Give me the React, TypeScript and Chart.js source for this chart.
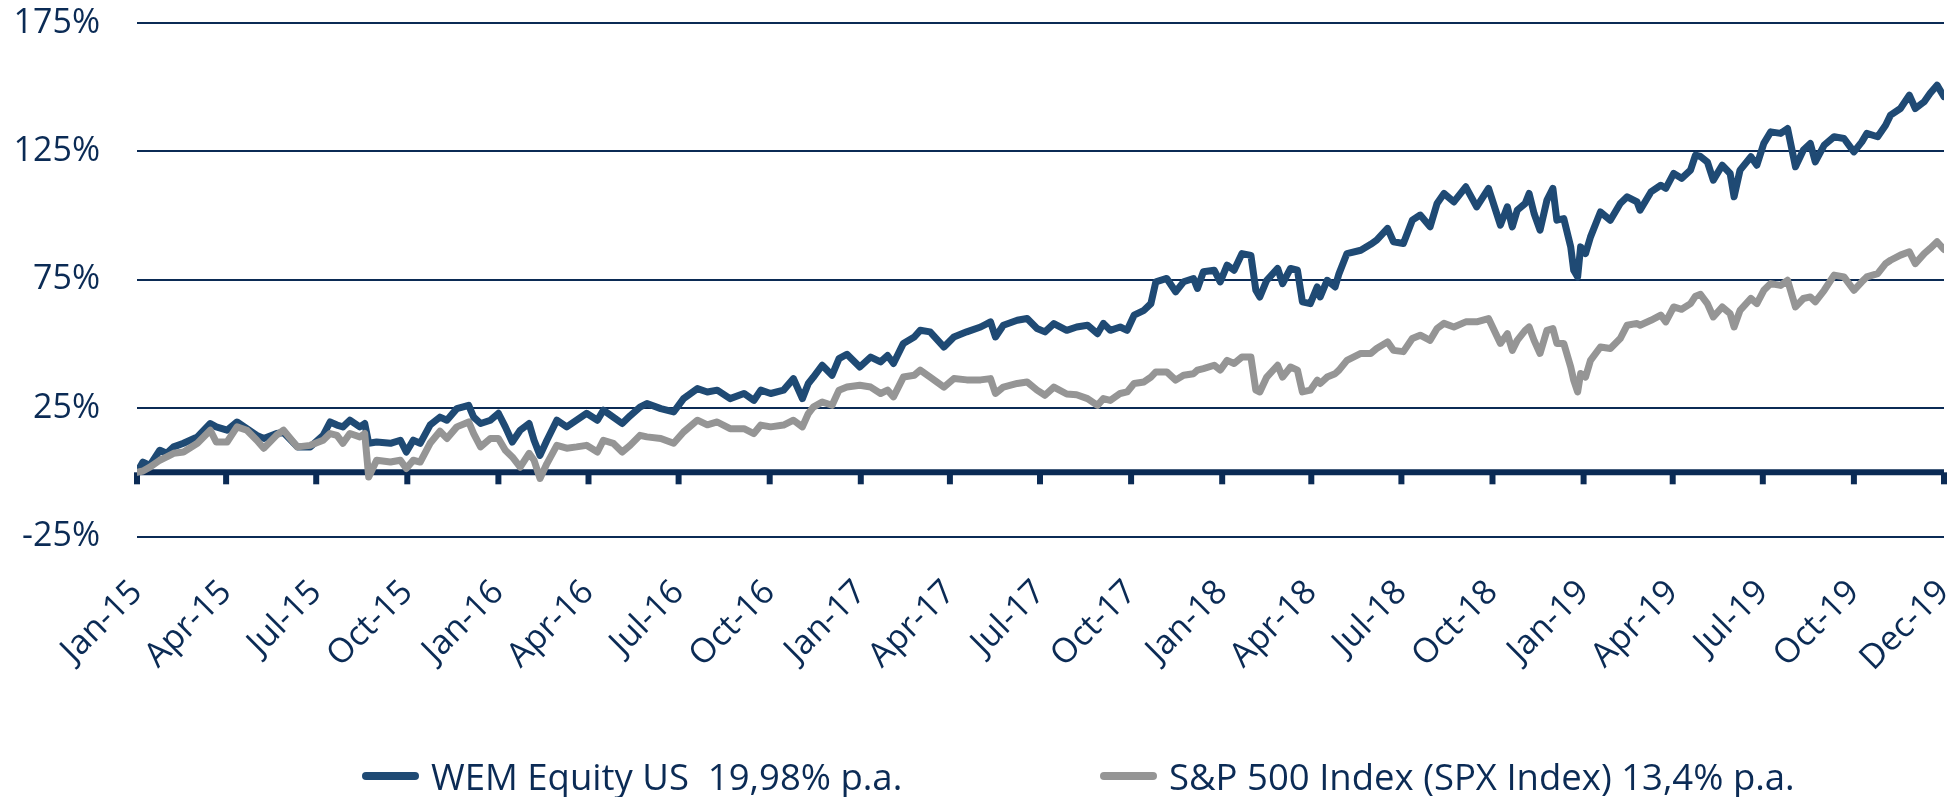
import React, { useEffect, useRef } from "react";
import { Chart, registerables } from "chart.js";

Chart.register(...registerables);

// days since 1 Jan 2015
const dayOffsets = [
  0, 6, 13, 23, 30, 37, 47, 61, 74, 80, 91, 101, 111, 121, 128, 141, 148, 162, 175, 188,
  195, 202, 208, 215, 225, 230, 234, 242, 256, 266, 272, 279, 286, 296, 306, 313, 323, 335, 340, 347,
  357, 365, 372, 379, 387, 396, 401, 407, 414, 424, 434, 444, 454, 465, 471, 481, 490, 498, 508, 515,
  529, 542, 552, 566, 576, 586, 599, 613, 623, 630, 640, 653, 663, 672, 678, 683, 692, 702, 709, 717,
  730, 741, 751, 758, 764, 774, 785, 791, 801, 815, 825, 838, 852, 862, 867, 875, 889, 899, 909, 917,
  926, 939, 949, 960, 970, 976, 983, 993, 1000, 1007, 1017, 1024, 1029, 1040, 1049, 1057, 1067, 1071, 1077, 1088,
  1094, 1101, 1108, 1116, 1125, 1130, 1134, 1141, 1152, 1157, 1165, 1172, 1177, 1185, 1192, 1195, 1202, 1210, 1214, 1222,
  1236, 1246, 1252, 1263, 1269, 1279, 1288, 1296, 1306, 1313, 1320, 1330, 1342, 1353, 1365, 1377, 1384, 1389, 1394, 1402,
  1406, 1411, 1417, 1424, 1430, 1434, 1441, 1448, 1451, 1455, 1458, 1463, 1468, 1478, 1488, 1498, 1505, 1515, 1518, 1529,
  1539, 1544, 1552, 1560, 1569, 1574, 1579, 1586, 1592, 1601, 1609, 1613, 1619, 1630, 1636, 1643, 1650, 1660, 1667, 1675,
  1683, 1690, 1695, 1704, 1714, 1724, 1734, 1742, 1747, 1758, 1766, 1771, 1781, 1790, 1796, 1805, 1811, 1818, 1825,
];

const wemValues = [
  0, 4, 2.7, 8.6, 7.4, 9.9, 11.3, 13.8, 19, 17.7, 16.4, 19.6, 17, 14.4, 13.2, 15.1, 15.5, 9.9, 9.9, 14.4,
  19.6, 18.4, 17.7, 20.3, 17.7, 19, 11.3, 11.8, 11.3, 12.5, 7.9, 12.5, 11.3, 18.4, 21.5, 20.3, 24.8, 26.1, 21.5, 19,
  20.3, 23, 17.7, 11.8, 16.4, 19, 12.5, 6.6, 12.5, 20.3, 17.7, 20.3, 23, 20.3, 24.2, 21.5, 19, 22, 25.4, 26.8,
  24.8, 23.5, 28.7, 32.6, 31.3, 32, 28.7, 30.7, 28, 32, 30.7, 32, 36.5, 28.7, 34.6, 37, 41.7, 37.8, 44.3, 46,
  41, 44.9, 43, 45.5, 42.4, 50.2, 52.7, 55.3, 54.7, 48.8, 52.7, 54.7, 56.6, 58.6, 52.7, 57.3, 59.2, 59.9, 56, 54.7,
  57.9, 55.3, 56.6, 57.3, 54, 58, 55.3, 56.6, 55.3, 61.2, 63.1, 65.7, 74.2, 75.5, 70.3, 74.2, 75.5, 71.6, 78.1, 78.7,
  74.2, 80.7, 78.7, 85.2, 84.5, 70.9, 68.3, 74.8, 79.4, 73.5, 79.4, 78.7, 66.4, 65.7, 72.2, 68.3, 74.8, 72.2, 77.4, 85.2,
  86.5, 88.8, 90.4, 95, 89.8, 89.1, 98.2, 100.2, 95.6, 104.7, 108.6, 105.3, 111.2, 103.4, 110.6, 96.3, 103.4, 95.6, 102.1, 104.7,
  108.6, 100.8, 94.3, 106, 110.6, 98.2, 98.8, 87.8, 78.7, 76.1, 87.8, 85.2, 91.7, 101.4, 98.2, 104.7, 107.3, 105.3, 102.1, 109.2,
  111.8, 110.6, 116.4, 114.5, 117.7, 123.5, 123, 120.9, 113.8, 119.6, 116.4, 107.3, 117.7, 122.9, 119.6, 128.1, 132.6, 132, 133.9, 119,
  125.5, 128.1, 120.9, 127.4, 130.7, 130, 124.8, 128.7, 132, 130.7, 135.2, 139.1, 141.7, 146.9, 141.7, 144.3, 147.6, 150.8, 146.3,
];

const spxValues = [
  0, 0.5, 2, 4.7, 6, 7.4, 7.9, 11.3, 16.4, 11.8, 11.8, 17.7, 16.4, 12.5, 9.4, 14.5, 16.4, 9.9, 10.5, 12.5,
  15.1, 14.4, 11.3, 15.1, 13.8, 15.1, -1.8, 4.7, 4, 4.7, 1.5, 4.7, 4, 11.3, 16, 13.2, 17.7, 19.6, 15.1, 9.9,
  13.2, 13.2, 8.6, 6, 2, 7.4, 4.7, -2.4, 3.4, 10.5, 9.4, 9.9, 10.5, 7.9, 12.5, 11.3, 7.9, 10.5, 14.4, 13.8,
  13.2, 11.3, 15.7, 20.3, 18.5, 19.6, 17, 17, 15.1, 18.4, 17.7, 18.4, 20.3, 17.7, 22.9, 25.4, 27.4, 26.1, 32, 33.2,
  33.9, 33.2, 30.7, 32, 29.4, 37.1, 37.8, 39.8, 37.1, 33.2, 36.5, 36, 36, 36.5, 30.7, 33.2, 34.6, 35.2, 32, 30,
  33.2, 30.5, 30.2, 28.7, 26.1, 28.7, 28, 30.7, 31.3, 34.6, 35.2, 37.1, 39.1, 39.1, 35.9, 37.8, 38.4, 39.8, 40.4, 41.7,
  39.8, 43.6, 42.4, 44.9, 44.9, 32, 31.3, 37.1, 41.7, 37.1, 41, 39.8, 31.3, 32, 35.9, 34.6, 37.1, 38.4, 39.8, 43.6,
  46.3, 46.3, 48.2, 50.8, 47.5, 47, 52.1, 53.4, 51.4, 56, 58, 56.6, 58.6, 58.6, 59.9, 50.2, 54, 47.5, 51.4, 55.3,
  56.6, 51.4, 46.3, 55.3, 56, 50.2, 50.2, 41, 35.9, 31.3, 38.5, 37.1, 43.6, 48.8, 48.2, 52.1, 57.3, 58, 57.3, 59.2,
  61.2, 58.6, 64.4, 63.5, 65.7, 68.6, 69.3, 65.7, 60.5, 64.4, 61.8, 56.6, 63.1, 67.7, 65.7, 70.9, 73.5, 72.8, 74.8, 64.4,
  67.7, 68.3, 66.4, 70.9, 76.8, 76.1, 70.9, 74.2, 76.1, 77.4, 81.3, 82.6, 84.6, 85.9, 81.3, 85.2, 87.2, 89.8, 86.8,
];

const tickDays = [0, 90, 181, 273, 365, 456, 547, 639, 731, 821, 912, 1004, 1096, 1186, 1277, 1369, 1461, 1551, 1642, 1734, 1825];
const tickLabels = [
  "Jan-15", "Apr-15", "Jul-15", "Oct-15", "Jan-16", "Apr-16", "Jul-16", "Oct-16", "Jan-17", "Apr-17",
  "Jul-17", "Oct-17", "Jan-18", "Apr-18", "Jul-18", "Oct-18", "Jan-19", "Apr-19", "Jul-19", "Oct-19", "Dec-19",
];
const yTicks = [-25, 25, 75, 125, 175];
const seriesNames = ["WEM Equity US  19,98% p.a.", "S&P 500 Index (SPX Index) 13,4% p.a."];

const NAVY = "#0b2b55";
const BLUE = "#1f4a74";
const GRAY = "#959595";
const FONT = '"Open Sans", "DejaVu Sans", sans-serif';

const zeroAxisPlugin = {
  id: "zeroAxis",
  beforeDatasetsDraw(chart: any) {
    const { ctx, chartArea, scales } = chart;
    const y0 = scales.y.getPixelForValue(0);
    ctx.save();
    ctx.strokeStyle = NAVY;
    ctx.lineCap = "butt";
    ctx.lineWidth = 6;
    ctx.beginPath();
    ctx.moveTo(chartArea.left, y0);
    ctx.lineTo(chartArea.right, y0);
    ctx.stroke();
    scales.x.ticks.forEach((t: any) => {
      const x = scales.x.getPixelForValue(t.value);
      ctx.beginPath();
      ctx.moveTo(x, y0);
      ctx.lineTo(x, y0 + 12);
      ctx.stroke();
    });
    ctx.restore();
  },
};

export default function App() {
  const canvasRef = useRef<HTMLCanvasElement | null>(null);

  useEffect(() => {
    if (!canvasRef.current) return;
    const chart = new Chart(canvasRef.current, {
      type: "line",
      data: {
        datasets: [
          {
            label: seriesNames[0],
            data: dayOffsets.map((d, i) => ({ x: d, y: wemValues[i] })),
            borderColor: BLUE,
            backgroundColor: BLUE,
            borderWidth: 7,
            pointRadius: 0,
            tension: 0,
            borderJoinStyle: "round",
            borderCapStyle: "round",
            order: 1,
          },
          {
            label: seriesNames[1],
            data: dayOffsets.map((d, i) => ({ x: d, y: spxValues[i] })),
            borderColor: GRAY,
            backgroundColor: GRAY,
            borderWidth: 7,
            pointRadius: 0,
            tension: 0,
            borderJoinStyle: "round",
            borderCapStyle: "round",
            order: 0,
          },
        ],
      },
      options: {
        animation: false,
        responsive: true,
        maintainAspectRatio: false,
        layout: { padding: { left: 0, right: 15, top: 23, bottom: 0 } },
        plugins: { legend: { display: false }, tooltip: { enabled: false } },
        scales: {
          x: {
            type: "linear",
            min: 0,
            max: 1825,
            grid: { display: false, drawTicks: false },
            border: { display: false },
            afterBuildTicks: (scale: any) => {
              scale.ticks = tickDays.map((v) => ({ value: v }));
            },
            afterFit: (scale: any) => {
              scale.height = 260.5;
              scale.paddingLeft = 0;
              scale.paddingRight = 0;
            },
            ticks: {
              autoSkip: false,
              maxRotation: 45,
              minRotation: 45,
              padding: 36,
              color: NAVY,
              font: { family: FONT, size: 34 },
              callback: (_v: any, i: number) => tickLabels[i] ?? "",
            },
          },
          y: {
            type: "linear",
            min: -25,
            max: 175,
            afterBuildTicks: (scale: any) => {
              scale.ticks = yTicks.map((v) => ({ value: v }));
            },
            afterFit: (scale: any) => {
              scale.width = 137;
              scale.paddingTop = 0;
              scale.paddingBottom = 0;
            },
            grid: { color: NAVY, lineWidth: 2, drawTicks: false },
            border: { display: false },
            ticks: {
              padding: 37,
              color: NAVY,
              font: { family: FONT, size: 34 },
              callback: (v: any) => `${v}%`,
            },
          },
        },
      },
      plugins: [zeroAxisPlugin],
    });
    return () => chart.destroy();
  }, []);

  const legendText: React.CSSProperties = {
    fontFamily: FONT,
    fontSize: 36.5,
    lineHeight: "36px",
    color: NAVY,
    whiteSpace: "pre",
  };
  const sample = (c: string): React.CSSProperties => ({
    display: "inline-block",
    width: 57,
    height: 8,
    borderRadius: 4,
    background: c,
    marginRight: 12,
  });

  return (
    <div style={{ position: "fixed", left: 0, top: 0, width: 1959, height: 797, background: "#fff" }}>
      <canvas ref={canvasRef} />
      <div style={{ position: "absolute", left: 362, top: 758, display: "flex", alignItems: "center" }}>
        <span style={sample(BLUE)} />
        <span style={legendText}>{seriesNames[0]}</span>
      </div>
      <div style={{ position: "absolute", left: 1100, top: 758, display: "flex", alignItems: "center" }}>
        <span style={sample(GRAY)} />
        <span style={legendText}>{seriesNames[1]}</span>
      </div>
    </div>
  );
}
